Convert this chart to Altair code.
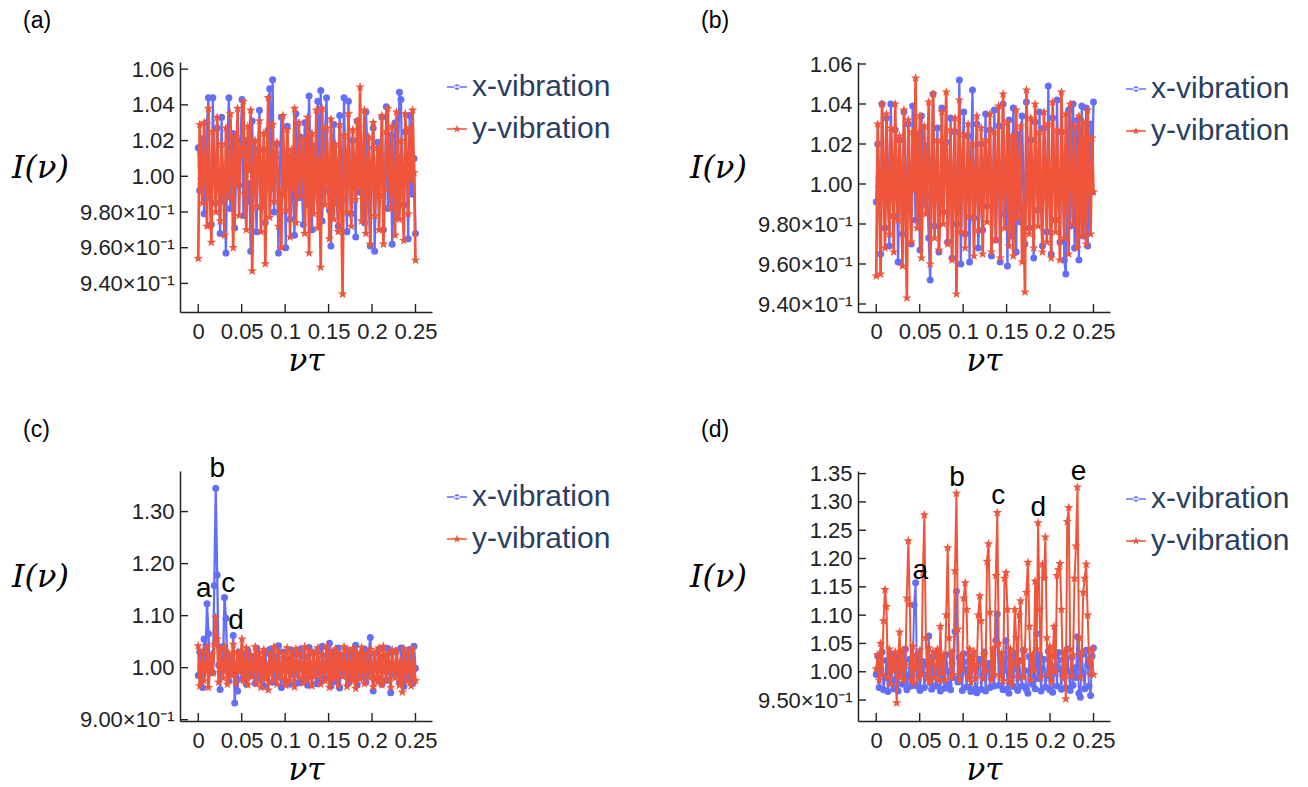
import altair as alt
import pandas as pd

# ---------------- data ----------------
N = 150
NU = [round(0.25 * i / (N - 1), 6) for i in range(N)]  # sampling grid of nu*tau

SERIES = ["x-vibration", "y-vibration"]
BLUE = "#636EFA"
RED = "#EF553B"

A_X = [1.016, 0.992, 1.005, 1.021, 0.979, 1.012, 1.030, 1.044, 0.988, 0.973, 1.044, 1.001, 0.985, 1.027, 0.994,
       0.968, 1.033, 0.986, 0.990, 0.957, 1.018, 1.044, 0.982, 1.008, 1.024, 0.971, 1.003, 1.012, 0.995, 1.020,
       1.043, 0.978, 1.010, 1.020, 0.986, 0.996, 0.958, 1.031, 0.991, 0.999, 0.969, 1.015, 1.037, 0.983, 1.006,
       1.015, 0.974, 1.002, 1.026, 1.049, 0.993, 1.054, 0.980, 1.011, 1.018, 0.957, 1.004, 1.033, 0.990, 1.013,
       0.960, 1.028, 0.997, 0.976, 1.011, 0.989, 0.967, 1.035, 1.007, 0.988, 1.022, 0.995, 0.973, 1.030, 1.001,
       0.984, 1.045, 1.009, 0.970, 1.017, 0.998, 0.993, 1.042, 0.987, 1.048, 0.975, 1.014, 1.025, 1.044, 0.992,
       0.981, 0.961, 1.006, 1.029, 0.996, 0.985, 0.972, 1.034, 1.010, 0.987, 1.044, 0.999, 0.969, 1.042, 1.003,
       0.979, 1.020, 0.994, 0.966, 1.031, 1.008, 0.991, 1.014, 0.990, 0.974, 1.036, 1.016, 0.985, 0.961, 1.004,
       1.027, 0.958, 1.002, 1.019, 0.989, 1.012, 1.033, 0.970, 0.997, 1.039, 0.982, 1.007, 1.023, 0.962, 0.995,
       1.030, 0.977, 1.011, 1.047, 1.043, 0.996, 0.984, 1.025, 1.005, 0.965, 1.034, 0.993, 0.990, 1.010, 0.968]
A_Y = [0.954, 1.029, 0.998, 0.985, 1.030, 1.004, 0.972, 1.038, 0.993, 0.963, 1.025, 1.009, 0.980, 1.033, 0.996,
       0.975, 1.018, 1.001, 0.967, 1.027, 0.992, 0.988, 1.035, 1.007, 0.960, 1.022, 0.995, 1.038, 0.978, 1.012,
       1.016, 1.042, 0.990, 0.970, 1.028, 1.003, 1.037, 0.947, 0.999, 1.020, 0.983, 1.010, 1.031, 0.969, 0.994,
       1.024, 0.951, 1.006, 1.044, 0.977, 0.997, 1.029, 0.986, 1.013, 1.019, 0.972, 0.991, 0.960, 1.034, 1.002,
       0.981, 1.026, 1.008, 0.966, 1.015, 0.993, 1.038, 0.974, 1.000, 1.030, 0.989, 1.011, 1.021, 0.968, 0.996,
       1.033, 0.957, 1.004, 1.024, 0.979, 0.992, 1.037, 0.971, 1.009, 0.949, 1.038, 0.998, 0.984, 1.027, 1.005,
       0.965, 1.032, 0.995, 0.976, 1.018, 1.007, 0.969, 1.029, 0.990, 0.934, 1.023, 1.012, 0.980, 1.035, 0.997,
       0.972, 1.026, 1.003, 0.987, 1.031, 0.994, 1.050, 0.975, 1.010, 1.037, 0.968, 0.999, 1.022, 0.962, 1.006,
       1.030, 0.978, 0.996, 1.016, 0.970, 1.008, 1.034, 0.962, 0.993, 1.025, 1.038, 1.001, 0.982, 1.028, 0.991,
       0.967, 1.036, 1.004, 0.976, 1.020, 0.995, 0.964, 1.035, 1.009, 0.979, 1.027, 0.998, 1.037, 1.002, 0.953]

B_X = [0.991, 1.020, 1.003, 0.965, 1.040, 0.996, 0.978, 1.033, 1.008, 0.969, 1.040, 0.993, 0.984, 1.027, 1.011,
       0.961, 1.022, 0.999, 0.975, 1.036, 1.005, 0.988, 1.030, 0.992, 0.970, 1.039, 1.010, 0.982, 1.025, 0.997,
       0.967, 1.034, 1.006, 0.990, 1.019, 0.994, 0.973, 0.952, 1.012, 1.045, 0.979, 1.001, 1.028, 0.966, 0.995,
       1.038, 0.986, 1.009, 1.021, 0.971, 0.998, 1.033, 0.963, 1.004, 1.026, 0.980, 0.993, 1.052, 0.960, 1.007,
       1.036, 0.975, 0.996, 1.024, 0.961, 1.010, 1.047, 0.983, 1.002, 1.030, 0.968, 0.991, 1.020, 0.977, 1.005,
       1.035, 0.989, 1.012, 1.027, 0.964, 0.997, 1.037, 0.972, 1.006, 1.029, 0.961, 0.994, 1.040, 0.985, 1.009,
       0.959, 1.032, 1.001, 0.974, 1.038, 0.992, 0.966, 1.025, 1.008, 0.981, 1.034, 0.999, 0.970, 1.041, 1.004,
       0.978, 1.022, 0.995, 0.963, 1.031, 1.010, 0.987, 1.036, 0.993, 0.969, 1.028, 1.006, 0.976, 1.049, 0.998,
       0.965, 1.033, 1.003, 0.982, 1.042, 0.994, 0.971, 1.026, 1.011, 0.962, 0.955, 1.000, 1.037, 0.979, 1.007,
       1.040, 0.968, 0.997, 1.032, 0.962, 1.009, 1.039, 0.974, 0.993, 1.038, 0.969, 1.004, 1.030, 0.996, 1.041]
B_Y = [0.954, 1.030, 0.998, 0.955, 1.040, 1.006, 0.968, 1.035, 0.993, 0.975, 1.028, 1.010, 0.966, 1.040, 0.995,
       0.982, 1.024, 1.002, 0.959, 1.037, 0.991, 0.943, 1.032, 1.007, 0.971, 1.026, 0.997, 1.053, 0.978, 1.012,
       1.034, 0.963, 1.000, 1.029, 0.985, 1.008, 1.041, 0.960, 0.994, 1.045, 0.973, 1.005, 1.022, 0.967, 0.990,
       1.036, 0.980, 1.011, 1.046, 0.970, 0.999, 1.027, 0.962, 1.004, 1.033, 0.945, 0.993, 1.042, 0.976, 1.009,
       1.025, 0.968, 0.996, 1.030, 0.984, 1.007, 1.020, 0.964, 1.001, 1.034, 0.977, 0.992, 1.028, 0.965, 1.010,
       1.022, 0.981, 1.003, 1.035, 0.966, 0.995, 1.026, 0.972, 1.008, 1.039, 0.963, 0.998, 1.045, 0.978, 1.006,
       1.031, 0.969, 0.994, 1.024, 0.964, 1.009, 1.037, 0.983, 1.002, 1.029, 0.961, 0.990, 0.946, 1.047, 1.004,
       0.975, 1.033, 0.999, 0.968, 1.040, 1.011, 0.979, 1.026, 0.993, 0.966, 1.036, 1.005, 0.971, 1.030, 0.997,
       0.963, 1.041, 1.008, 0.976, 1.027, 0.994, 0.962, 1.046, 1.001, 0.973, 1.035, 0.996, 0.965, 1.040, 1.007,
       0.980, 1.029, 0.998, 0.968, 1.034, 1.005, 0.974, 1.031, 0.992, 0.970, 1.037, 1.003, 0.975, 1.023, 0.996]

C_X = [0.985, 1.030, 1.002, 0.962, 1.055, 1.010, 1.123, 1.065, 0.995, 1.012, 0.990, 1.158, 1.345, 1.178, 1.005,
       0.958, 1.040, 1.008, 1.135, 1.095, 0.993, 0.975, 1.020, 1.003, 1.062, 0.932, 0.998, 0.955, 1.030, 1.006,
       0.978, 1.025, 1.001, 0.968, 1.033, 0.996, 0.985, 1.020, 1.007, 0.970, 1.038, 0.993, 0.980, 1.015, 1.004,
       0.965, 1.028, 0.999, 0.990, 1.035, 1.009, 0.972, 1.022, 0.994, 0.983, 1.042, 1.003, 0.962, 1.030, 0.997,
       0.975, 1.018, 1.005, 0.968, 1.034, 0.992, 0.986, 1.025, 1.010, 0.971, 1.036, 0.998, 0.979, 1.021, 1.002,
       0.966, 1.039, 0.995, 0.984, 1.027, 1.006, 0.969, 1.033, 0.991, 0.977, 1.041, 1.008, 0.982, 1.024, 0.996,
       1.047, 0.965, 1.004, 1.030, 0.975, 0.993, 1.038, 0.961, 1.009, 1.022, 0.986, 1.001, 1.034, 0.970, 0.997,
       1.028, 0.979, 1.006, 1.043, 0.967, 0.994, 1.025, 0.983, 1.011, 1.036, 0.972, 1.000, 1.030, 1.058, 0.992,
       0.955, 1.027, 1.003, 0.980, 1.035, 0.997, 0.968, 1.022, 1.008, 0.976, 1.037, 0.995, 0.952, 1.029, 1.005,
       0.985, 1.033, 0.998, 0.971, 1.038, 1.007, 0.964, 1.026, 0.993, 0.978, 1.035, 1.004, 0.969, 1.041, 0.999]
C_Y = [1.042, 0.965, 1.003, 1.030, 0.975, 0.996, 1.040, 0.962, 1.008, 1.025, 0.990, 1.045, 1.097, 1.055, 0.972,
       1.035, 0.999, 0.980, 1.040, 1.005, 0.968, 1.028, 0.994, 0.985, 1.045, 1.002, 0.970, 1.030, 0.992, 1.010,
       1.055, 0.975, 1.001, 1.038, 0.967, 1.006, 1.025, 0.982, 0.995, 1.040, 0.970, 1.009, 1.030, 0.962, 0.998,
       1.035, 0.978, 1.004, 0.957, 1.028, 0.993, 0.975, 1.040, 1.007, 0.968, 1.032, 0.996, 0.980, 1.025, 1.002,
       0.966, 1.038, 0.995, 0.975, 1.030, 1.008, 0.963, 1.036, 0.999, 0.982, 1.027, 1.005, 0.970, 1.040, 0.992,
       0.977, 1.033, 1.006, 0.965, 1.029, 0.997, 0.984, 1.038, 1.003, 0.968, 1.025, 0.994, 0.975, 1.041, 1.009,
       0.962, 1.030, 1.001, 0.979, 1.036, 0.993, 0.966, 1.028, 1.007, 0.983, 1.040, 0.998, 0.964, 1.032, 1.004,
       0.975, 1.037, 0.996, 0.960, 1.029, 1.010, 0.978, 1.039, 1.002, 0.969, 1.026, 0.994, 0.981, 1.035, 1.006,
       0.963, 1.030, 0.999, 0.972, 1.038, 1.005, 0.967, 1.041, 0.995, 0.976, 1.027, 1.008, 0.962, 1.034, 1.001,
       0.980, 1.031, 0.997, 0.966, 1.012, 0.953, 1.037, 0.993, 0.974, 1.029, 1.006, 0.965, 1.036, 0.998, 0.975]

D_X = [0.995, 1.028, 0.972, 1.005, 1.035, 0.968, 0.990, 1.020, 0.965, 1.012, 1.030, 0.985, 0.970, 1.008, 1.025,
       0.966, 0.998, 1.033, 0.978, 1.015, 1.040, 0.968, 0.992, 1.022, 0.975, 1.004, 1.118, 1.157, 0.975, 1.030,
       0.967, 1.003, 1.018, 0.972, 0.994, 1.010, 1.063, 0.980, 0.969, 1.026, 0.996, 0.975, 1.035, 1.006, 0.966,
       1.020, 0.988, 0.971, 1.030, 1.001, 0.978, 0.968, 1.015, 0.990, 1.071, 1.142, 0.982, 1.025, 0.997, 0.967,
       1.032, 1.004, 0.973, 1.018, 0.992, 0.965, 1.028, 1.008, 0.970, 0.963, 1.012, 1.022, 0.969, 0.995, 1.035,
       0.966, 1.009, 1.015, 0.972, 0.990, 1.006, 0.975, 1.055, 1.102, 0.976, 1.030, 0.999, 0.968, 1.003, 1.055,
       0.970, 0.962, 1.025, 0.994, 0.974, 1.033, 1.006, 0.967, 1.020, 0.991, 0.975, 1.038, 1.002, 0.969, 0.962,
       1.027, 0.996, 0.978, 1.012, 0.970, 1.067, 0.988, 1.030, 0.966, 1.004, 1.022, 0.973, 0.993, 1.036, 0.968,
       1.010, 0.964, 0.998, 1.028, 0.975, 1.034, 1.005, 0.969, 1.021, 0.990, 0.972, 1.040, 1.001, 0.967, 1.025,
       0.976, 1.007, 0.990, 1.062, 0.962, 0.955, 1.030, 0.998, 0.970, 1.038, 1.011, 0.975, 0.958, 1.028, 1.042]
D_Y = [1.005, 1.030, 0.985, 1.050, 0.995, 1.090, 1.145, 1.115, 0.990, 1.040, 0.978, 1.025, 1.002, 1.035, 0.945,
       1.020, 1.070, 0.992, 1.038, 0.985, 1.012, 1.130, 1.231, 1.120, 0.985, 1.045, 0.980, 1.030, 1.008, 0.990,
       1.038, 0.995, 1.175, 1.277, 1.060, 0.988, 1.042, 0.982, 1.020, 1.035, 0.990, 1.010, 1.040, 0.985, 1.080,
       0.998, 1.030, 0.985, 1.100, 1.219, 1.060, 0.990, 1.035, 0.995, 1.178, 1.315, 1.075, 0.985, 1.028, 1.003,
       1.130, 1.157, 1.110, 0.990, 1.040, 0.982, 1.020, 1.036, 0.988, 1.012, 1.100, 1.134, 1.090, 0.988, 1.030,
       1.000, 1.195, 1.226, 1.105, 0.985, 1.040, 0.995, 1.170, 1.281, 1.050, 0.992, 1.033, 0.984, 1.165, 1.175,
       1.110, 0.984, 1.040, 0.978, 1.015, 1.110, 1.060, 0.990, 1.100, 1.125, 1.020, 0.990, 1.038, 1.140, 1.193,
       1.080, 0.986, 1.030, 1.002, 1.160, 1.040, 1.263, 1.110, 0.990, 1.190, 1.165, 1.238, 1.060, 0.995, 1.045,
       0.982, 1.030, 1.080, 1.000, 1.170, 1.180, 1.191, 1.110, 0.990, 1.035, 0.952, 1.265, 1.290, 1.040, 0.992,
       1.030, 1.165, 1.222, 1.326, 1.060, 0.990, 1.035, 1.140, 1.165, 1.190, 1.100, 1.020, 0.995, 1.040, 0.995]

X_TICKS = [0, 0.05, 0.1, 0.15, 0.2, 0.25]
YT_AB = [0.94, 0.96, 0.98, 1.0, 1.02, 1.04, 1.06]
YT_C = [0.9, 1.0, 1.1, 1.2, 1.3]
YT_D = [0.95, 1.0, 1.05, 1.1, 1.15, 1.2, 1.25, 1.3, 1.35]

C_ANN = ["a", "b", "c", "d"]
C_ANN_X = [0.0065, 0.0218, 0.0344, 0.0436]
C_ANN_Y = [1.151, 1.3815, 1.1615, 1.0898]
D_ANN = ["a", "b", "c", "d", "e"]
D_ANN_X = [0.0508, 0.0931, 0.1404, 0.1866, 0.2328]
D_ANN_Y = [1.178, 1.3417, 1.3105, 1.2887, 1.353]

# ---------------- styling ----------------
STAR = ("M0,-1L0.235,-0.324L0.951,-0.309L0.380,0.124L0.588,0.809L0,0.4"
        "L-0.588,0.809L-0.380,0.124L-0.951,-0.309L-0.235,-0.324Z")
LEG_CIRCLE = ("M-1,-0.07H1V0.07H-1Z M-0.28,0A0.28,0.28,0,1,0,0.28,0"
              "A0.28,0.28,0,1,0,-0.28,0Z")
LEG_STAR = ("M-1,-0.07H1V0.07H-1Z M0,-0.42L0.099,-0.136L0.4,-0.13L0.16,0.052"
            "L0.247,0.34L0,0.168L-0.247,0.34L-0.16,0.052L-0.4,-0.13L-0.099,-0.136Z")
SYM_EXPR = ("datum.value == 'x-vibration' ? '" + LEG_CIRCLE + "' : '" + LEG_STAR + "'")

W, H = 252, 250
SANS = "Liberation Sans"
SERIF = "DejaVu Serif"
AX_COL = "#222222"


def panel(tag, xv, yv, ydom, yticks, leg_x, leg_y, ann=None, bw=2.3, rw=2.7):
    xs = alt.Scale(domain=[-0.021, 0.269], nice=False, zero=False)
    ys = alt.Scale(domain=ydom, nice=False, zero=False)
    xax = alt.Axis(title="ντ", values=X_TICKS, labelExpr="format(datum.value, '~g')",
                   ticks=False, tickSize=0, grid=False, domainColor=AX_COL, domainWidth=1.5,
                   labelFont=SANS, labelFontSize=22, labelColor=AX_COL, labelPadding=9,
                   labelOverlap=False, labelFlush=False,
                   titleFont=SERIF, titleFontStyle="italic", titleFontWeight="normal",
                   titleFontSize=31, titleColor="black", titleX=W / 2, titleY=49,
                   titleBaseline="middle", titleAlign="center")
    yax = alt.Axis(title="I(ν)", values=yticks,
                   labelExpr="datum.value < 0.995 ? format(datum.value * 10, '.2f') + '×10⁻¹' : format(datum.value, '.2f')",
                   ticks=False, tickSize=0, grid=False, domainColor=AX_COL, domainWidth=1.5,
                   labelFont=SANS, labelFontSize=22, labelColor=AX_COL, labelPadding=6,
                   labelOverlap=False, labelFlush=False,
                   titleFont=SERIF, titleFontStyle="italic", titleFontWeight="normal",
                   titleFontSize=32, titleColor="black", titleAngle=0, titleX=-140, titleY=105,
                   titleBaseline="middle", titleAlign="center")
    leg = alt.Legend(title=None, orient="none", legendX=leg_x, legendY=leg_y,
                     labelFont=SANS, labelFontSize=30, labelColor="#2a3f5f",
                     symbolSize=400, symbolType={"expr": SYM_EXPR}, symbolStrokeWidth=0,
                     symbolOpacity=1, rowPadding=12, labelOffset=0, padding=0)
    X = alt.X("nu:Q", scale=xs, axis=xax)
    Y = alt.Y("I:Q", scale=ys, axis=yax)
    col = alt.Color("series:N", scale=alt.Scale(domain=SERIES, range=[BLUE, RED]), legend=leg)

    dfx = pd.DataFrame({"nu": NU, "I": xv, "series": SERIES[0]})
    dfy = pd.DataFrame({"nu": NU, "I": yv, "series": SERIES[1]})

    bl = alt.Chart(dfx).mark_line(color=BLUE, strokeWidth=bw).encode(x=X, y=Y)
    bp = alt.Chart(dfx).mark_point(shape="circle", filled=True, size=49, opacity=1,
                                   strokeWidth=0).encode(x=X, y=Y, color=col)
    rl = alt.Chart(dfy).mark_line(color=RED, strokeWidth=rw).encode(x=X, y=Y)
    rp = alt.Chart(dfy).mark_point(shape=STAR, filled=True, size=100, opacity=1,
                                   strokeWidth=0).encode(x=X, y=Y, color=col)

    xt = alt.Chart(pd.DataFrame({"nu": X_TICKS})).mark_rule(color=AX_COL, strokeWidth=1.4).encode(
        x=X, y=alt.value(H), y2=alt.value(H - 8))
    yt = alt.Chart(pd.DataFrame({"I": yticks})).mark_rule(color=AX_COL, strokeWidth=1.4).encode(
        y=Y, x=alt.value(0), x2=alt.value(8))
    lab = alt.Chart(pd.DataFrame({"t": [tag]})).mark_text(
        align="left", baseline="alphabetic", font=SANS, fontSize=23, color="black").encode(
        text="t:N", x=alt.value(-157), y=alt.value(-34))

    layers = [bl, bp, rl, rp, xt, yt, lab]
    if ann is not None:
        adf = pd.DataFrame({"nu": ann[1], "I": ann[2], "t": ann[0]})
        layers.append(alt.Chart(adf).mark_text(font=SANS, fontSize=28, color="black",
                                               baseline="middle", align="center").encode(
            x=X, y=Y, text="t:N"))
    return alt.layer(*layers).properties(width=W, height=H)


pa = panel("(a)", A_X, A_Y, [0.924, 1.064], YT_AB, 262, 10)
pb = panel("(b)", B_X, B_Y, [0.936, 1.061], YT_AB, 263, 12)
pc = panel("(c)", C_X, C_Y, [0.8975, 1.378], YT_C, 262, 11, (C_ANN, C_ANN_X, C_ANN_Y))
pd_ = panel("(d)", D_X, D_Y, [0.913, 1.3546], YT_D, 263, 13, (D_ANN, D_ANN_X, D_ANN_Y),
            bw=2.0, rw=2.0)

chart = alt.concat(pa, pb, pc, pd_, columns=2,
                   spacing=alt.RowColnumber(row=159, column=426),
                   bounds="flush").resolve_scale(
    x="independent", y="independent", color="independent").resolve_legend(
    color="independent").configure_view(stroke=None).properties(
    background="white", padding={"left": 3, "top": 2, "right": 5, "bottom": 4})

chart.save("out.html", embed_options={"renderer": "svg", "actions": False})
